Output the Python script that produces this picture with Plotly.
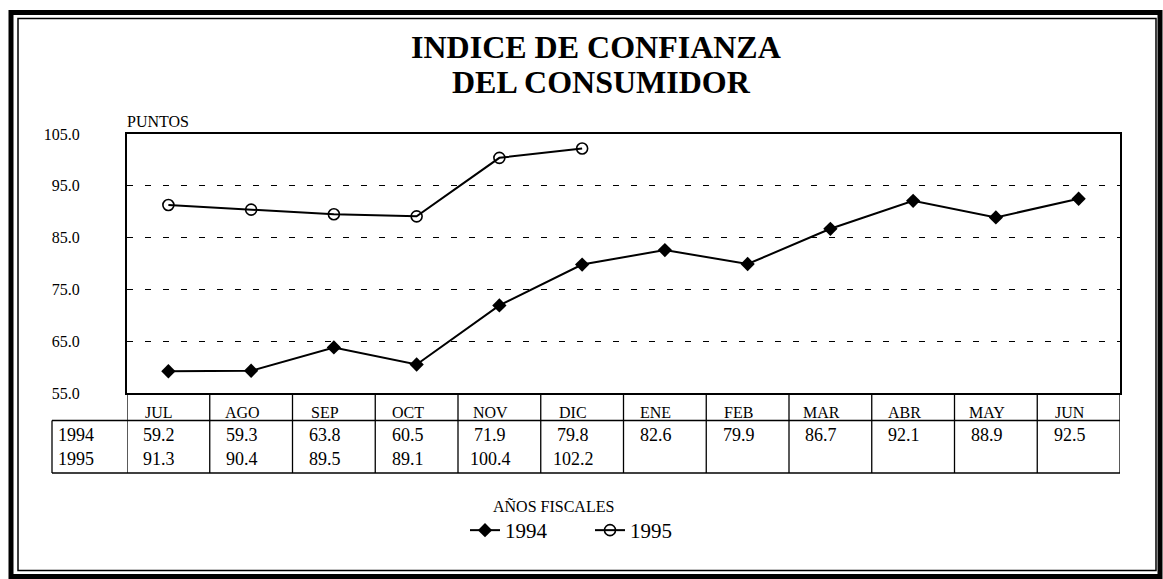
import plotly.graph_objects as go

# ---------------- data ----------------
months = ["JUL", "AGO", "SEP", "OCT", "NOV", "DIC", "ENE", "FEB", "MAR", "ABR", "MAY", "JUN"]
fy1994 = [59.2, 59.3, 63.8, 60.5, 71.9, 79.8, 82.6, 79.9, 86.7, 92.1, 88.9, 92.5]
fy1995 = [91.3, 90.4, 89.5, 89.1, 100.4, 102.2, None, None, None, None, None, None]
series_names = ["1994", "1995"]
y_ticks = [55.0, 65.0, 75.0, 85.0, 95.0, 105.0]
title_lines = ["INDICE DE CONFIANZA", "DEL CONSUMIDOR"]
y_unit = "PUNTOS"
legend_title = "AÑOS FISCALES"

# ---------------- geometry (pixels) ----------------
W, H = 1163, 579
PL, PR, PT, PB = 127, 1120, 134, 393
FONT = "Liberation Serif, Times New Roman, serif"


def fx(px):
    return (px - PL) / (PR - PL)


def fy(py):
    return (PB - py) / (PB - PT)


x_idx = list(range(len(months)))

fig = go.Figure()
fig.add_trace(go.Scatter(
    x=x_idx, y=fy1994, name=series_names[0], mode="lines+markers",
    line=dict(color="black", width=2),
    marker=dict(symbol="diamond", size=11, color="black"),
))
fig.add_trace(go.Scatter(
    x=x_idx, y=fy1995, name=series_names[1], mode="lines+markers",
    line=dict(color="black", width=2),
    marker=dict(symbol="circle-open", size=11, color="black", line=dict(width=1.6)),
))

shapes = []
annotations = []

# outer double frame
shapes.append(dict(type="rect", xref="paper", yref="paper",
                   x0=fx(11), x1=fx(1160), y0=fy(12.5), y1=fy(576.5),
                   line=dict(color="black", width=5)))
shapes.append(dict(type="rect", xref="paper", yref="paper",
                   x0=fx(18), x1=fx(1156), y0=fy(18.5), y1=fy(570.5),
                   line=dict(color="black", width=1.5)))

# table grid
tab_hdr_line = 420.5
tab_bottom = 473
for i in range(len(months) + 1):
    shapes.append(dict(type="line", xref="x", yref="paper",
                       x0=i - 0.5, x1=i - 0.5, y0=fy(PB), y1=fy(tab_bottom),
                       line=dict(color="black", width=1.3)))
shapes.append(dict(type="line", xref="paper", yref="paper",
                   x0=fx(52), x1=1, y0=fy(tab_hdr_line), y1=fy(tab_hdr_line),
                   line=dict(color="black", width=1.3)))
shapes.append(dict(type="line", xref="paper", yref="paper",
                   x0=fx(52), x1=1, y0=fy(tab_bottom), y1=fy(tab_bottom),
                   line=dict(color="black", width=1.3)))
shapes.append(dict(type="line", xref="paper", yref="paper",
                   x0=fx(52), x1=fx(52), y0=fy(tab_hdr_line), y1=fy(tab_bottom),
                   line=dict(color="black", width=1.3)))

# table text
hdr_y, r1_y, r2_y = 412, 434.5, 459
for i, m in enumerate(months):
    annotations.append(dict(x=i, y=fy(hdr_y), xref="x", yref="paper", text=m,
                            showarrow=False, xanchor="center", yanchor="middle", xshift=-9,
                            font=dict(family=FONT, size=16, color="black")))
    annotations.append(dict(x=i, y=fy(r1_y), xref="x", yref="paper", text=f"{fy1994[i]:.1f}",
                            showarrow=False, xanchor="center", yanchor="middle", xshift=-9,
                            font=dict(family=FONT, size=18, color="black")))
    if fy1995[i] is not None:
        annotations.append(dict(x=i, y=fy(r2_y), xref="x", yref="paper", text=f"{fy1995[i]:.1f}",
                                showarrow=False, xanchor="center", yanchor="middle", xshift=-9,
                                font=dict(family=FONT, size=18, color="black")))
for name, yy in zip(series_names, [r1_y, r2_y]):
    annotations.append(dict(x=fx(56), y=fy(yy), xref="paper", yref="paper", text=name,
                            showarrow=False, xanchor="left", yanchor="middle",
                            font=dict(family=FONT, size=18, color="black")))

# title
annotations.append(dict(x=fx(596), y=fy(47), xref="paper", yref="paper",
                        text="<b>" + title_lines[0] + "</b>", showarrow=False,
                        xanchor="center", yanchor="middle",
                        font=dict(family=FONT, size=32, color="black")))
annotations.append(dict(x=fx(601), y=fy(82), xref="paper", yref="paper",
                        text="<b>" + title_lines[1] + "</b>", showarrow=False,
                        xanchor="center", yanchor="middle",
                        font=dict(family=FONT, size=32, color="black")))
# unit label
annotations.append(dict(x=0, y=fy(121), xref="paper", yref="paper", text=y_unit,
                        showarrow=False, xanchor="left", yanchor="middle", xshift=-2,
                        font=dict(family=FONT, size=16, color="black")))
# legend title
annotations.append(dict(x=fx(553), y=fy(506), xref="paper", yref="paper", text=legend_title,
                        showarrow=False, xanchor="center", yanchor="middle",
                        font=dict(family=FONT, size=16, color="black")))

fig.update_layout(
    width=W, height=H,
    margin=dict(l=PL, r=W - PR, t=PT, b=H - PB, pad=0),
    paper_bgcolor="white", plot_bgcolor="white",
    font=dict(family=FONT, color="black"),
    showlegend=True,
    legend=dict(
        orientation="h", x=fx(590), xanchor="center", y=fy(510), yanchor="top",
        font=dict(family=FONT, size=21, color="black"),
        bgcolor="rgba(0,0,0,0)", itemwidth=30,
        entrywidth=80, entrywidthmode="pixels",
    ),
    shapes=shapes,
    annotations=annotations,
)
fig.update_xaxes(
    range=[-0.5, len(months) - 0.5], showticklabels=False, showgrid=False,
    zeroline=False, showline=True, linecolor="black", linewidth=2, mirror=True,
    fixedrange=True,
)
fig.update_yaxes(
    range=[y_ticks[0], y_ticks[-1]], tickvals=y_ticks,
    ticktext=[f"{v:.1f}" for v in y_ticks],
    tickfont=dict(family=FONT, size=16, color="black"),
    ticks="", ticklabelstandoff=42,
    showgrid=True, gridcolor="black", gridwidth=1, griddash="6px,12px",
    zeroline=False, showline=True, linecolor="black", linewidth=2, mirror=True,
    fixedrange=True,
)

fig.write_html(
    "out.html",
    config={"displayModeBar": False},
    post_script="document.body.style.margin='0';document.body.style.overflow='hidden';",
)
